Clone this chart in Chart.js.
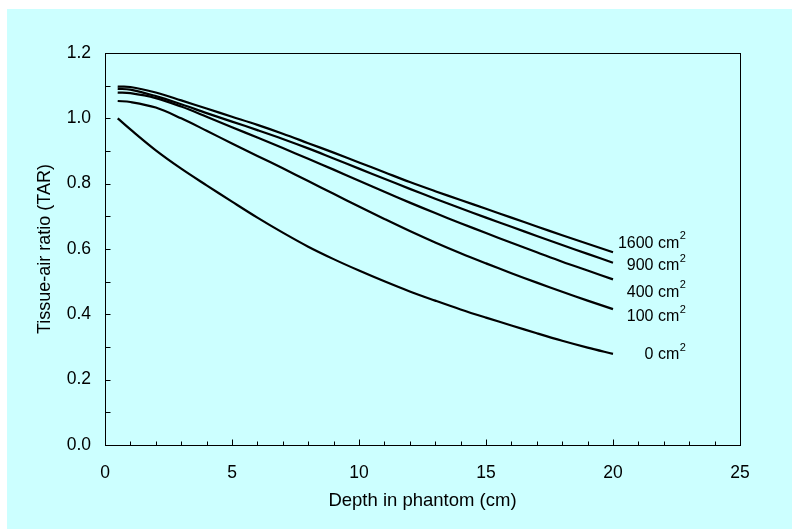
<!DOCTYPE html>
<html>
<head>
<meta charset="utf-8">
<script src="https://cdn.jsdelivr.net/npm/chart.js@4/dist/chart.umd.min.js"></script>
<style>
  html, body { margin: 0; padding: 0; background: #fff; }
</style>
</head>
<body>
<canvas id="tarChart" width="792" height="529"></canvas>
<script>
// Depth in phantom (cm)
const depth = [0.5, 1, 2, 3, 4, 5, 6, 7, 8, 9, 10, 11, 12, 13, 14, 15, 16, 17, 18, 19, 20]

// Tissue-air ratio per field size
const tar0    = [1.000, 0.966, 0.902, 0.846, 0.795, 0.745, 0.696, 0.650, 0.607, 0.569, 0.534, 0.501, 0.470, 0.442, 0.415, 0.390, 0.366, 0.342, 0.319, 0.298, 0.279]
const tar100  = [1.053, 1.050, 1.033, 1.000, 0.962, 0.923, 0.885, 0.847, 0.808, 0.769, 0.730, 0.692, 0.655, 0.620, 0.587, 0.556, 0.526, 0.497, 0.469, 0.442, 0.416]
const tar400  = [1.079, 1.077, 1.062, 1.036, 1.005, 0.973, 0.941, 0.909, 0.876, 0.843, 0.809, 0.775, 0.742, 0.710, 0.679, 0.649, 0.619, 0.590, 0.561, 0.534, 0.507]
const tar900  = [1.090, 1.088, 1.068, 1.043, 1.016, 0.990, 0.964, 0.937, 0.908, 0.877, 0.846, 0.815, 0.784, 0.754, 0.725, 0.696, 0.668, 0.640, 0.612, 0.585, 0.558]
const tar1600 = [1.097, 1.096, 1.079, 1.055, 1.030, 1.005, 0.980, 0.953, 0.924, 0.895, 0.865, 0.835, 0.805, 0.777, 0.750, 0.723, 0.696, 0.669, 0.642, 0.616, 0.590]

const fieldNames = ['0', '100', '400', '900', '1600']
const series = [tar0, tar100, tar400, tar900, tar1600]

// where each field-size tag sits (data units, right edge of text)
const tagX = 22.87
const tagY = [0.2755, 0.392, 0.468, 0.549, 0.618]

const FONT = '"Liberation Sans", Arial, sans-serif'

// white margin + cyan panel
const backdrop = {
  id: 'backdrop',
  beforeDraw(chart) {
    const ctx = chart.ctx
    ctx.save()
    ctx.fillStyle = '#fff'
    ctx.fillRect(0, 0, chart.width, chart.height)
    ctx.fillStyle = '#ccffff'
    ctx.fillRect(7, 9, chart.width - 7, chart.height - 9)
    ctx.restore()
  }
}

// plot frame and inward tick marks
const frame = {
  id: 'frame',
  afterDraw(chart) {
    const { ctx, chartArea: a, scales: { x, y } } = chart
    ctx.save()
    ctx.strokeStyle = '#000'
    ctx.lineWidth = 1
    const l = Math.round(a.left) + 0.5
    const t = Math.round(a.top) + 0.5
    const r = Math.round(a.right) + 0.5
    const b = Math.round(a.bottom) + 0.5
    ctx.strokeRect(l, t, r - l, b - t)
    ctx.beginPath()
    for (let v = 0; v <= 25; v++) {
      const px = Math.round(x.getPixelForValue(v)) + 0.5
      const len = v % 5 === 0 ? 6 : 4
      ctx.moveTo(px, b)
      ctx.lineTo(px, b - len)
    }
    for (let i = 0; i <= 12; i++) {
      const py = Math.round(y.getPixelForValue(i / 10)) + 0.5
      ctx.moveTo(l, py)
      ctx.lineTo(l + 5, py)
    }
    ctx.stroke()
    ctx.restore()
  }
}

// "N cm²" tags at the end of the curves
const fieldTags = {
  id: 'fieldTags',
  afterDatasetsDraw(chart) {
    const { ctx, scales: { x, y } } = chart
    ctx.save()
    ctx.fillStyle = '#000'
    ctx.textBaseline = 'middle'
    fieldNames.forEach((name, i) => {
      const px = x.getPixelForValue(tagX)
      const py = y.getPixelForValue(tagY[i])
      ctx.font = '11px ' + FONT
      const supW = ctx.measureText('2').width
      ctx.textAlign = 'left'
      ctx.fillText('2', px - supW, py - 7)
      ctx.font = '16px ' + FONT
      ctx.textAlign = 'right'
      ctx.fillText(name + ' cm', px - supW - 0.5, py)
    })
    ctx.restore()
  }
}

const datasets = series.map((vals, i) => ({
  label: fieldNames[i] + ' cm²',
  data: depth.map((d, k) => ({ x: d, y: vals[k] })),
  borderColor: '#000',
  borderWidth: 2.2,
  pointRadius: 0,
  fill: false,
  tension: 0.35
}))

const tarChart = new Chart(document.getElementById('tarChart'), {
  type: 'line',
  data: { datasets: datasets },
  options: {
    responsive: false,
    animation: false,
    layout: { padding: { left: 0, top: 53, right: 52, bottom: 0 } },
    plugins: {
      legend: { display: false },
      tooltip: { enabled: false }
    },
    scales: {
      x: {
        type: 'linear',
        min: 0,
        max: 25,
        afterFit(scale) { scale.height = 84 },
        grid: { display: false, drawTicks: false },
        border: { display: false },
        ticks: {
          stepSize: 5,
          padding: 18,
          color: '#000',
          font: { family: FONT, size: 17.5 }
        },
        title: {
          display: true,
          text: 'Depth in phantom (cm)',
          color: '#000',
          font: { family: FONT, size: 18.5 },
          padding: { top: 0, bottom: 17 }
        }
      },
      y: {
        min: 0,
        max: 1.2,
        afterFit(scale) { scale.width = 105 },
        grid: { display: false, drawTicks: false },
        border: { display: false },
        ticks: {
          stepSize: 0.2,
          padding: 14,
          color: '#000',
          font: { family: FONT, size: 17.5 },
          callback: v => v.toFixed(1)
        },
        title: {
          display: true,
          text: 'Tissue-air ratio (TAR)',
          color: '#000',
          font: { family: FONT, size: 18 },
          padding: { top: 34, bottom: 0 }
        }
      }
    }
  },
  plugins: [backdrop, frame, fieldTags]
})
</script>
</body>
</html>
